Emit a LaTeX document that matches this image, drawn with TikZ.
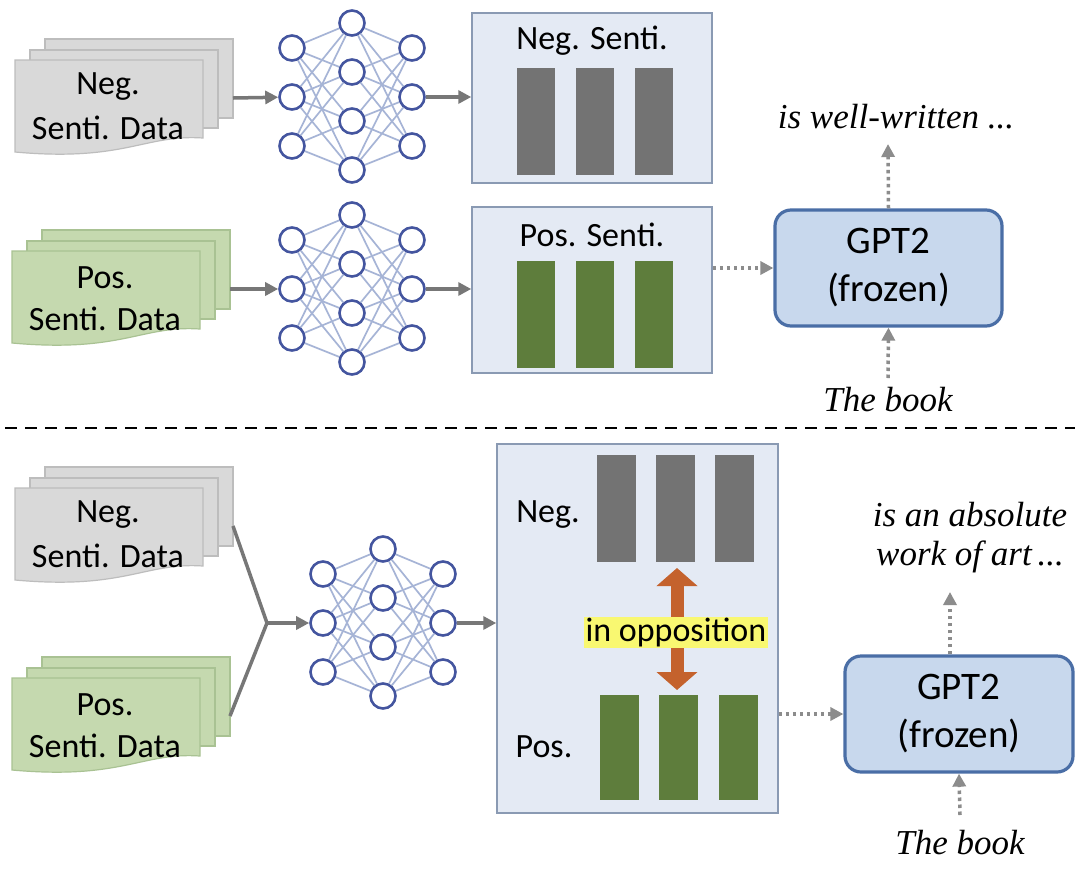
\documentclass[tikz,border=0pt]{standalone}
\usepackage{fontspec}
\setmainfont{Carlito}
\newfontfamily\tms{Liberation Serif}
\usetikzlibrary{arrows.meta,calc}
\definecolor{sheetgray}{HTML}{D9D9D9}
\definecolor{sheetgrayd}{HTML}{BDBDBD}
\definecolor{sheetgreen}{HTML}{C5D9AF}
\definecolor{sheetgreend}{HTML}{A9C293}
\definecolor{nnblue}{HTML}{44559F}
\definecolor{nnedgec}{HTML}{A6B4D6}
\definecolor{arrgray}{HTML}{777777}
\definecolor{dotgray}{HTML}{8C8C8C}
\definecolor{boxfill}{HTML}{E4EAF4}
\definecolor{boxdraw}{HTML}{8A9AB3}
\definecolor{negbarc}{HTML}{737373}
\definecolor{posbarc}{HTML}{5E7D3C}
\definecolor{gptfill}{HTML}{C8D8ED}
\definecolor{gptdraw}{HTML}{4A6EA6}
\definecolor{oppc}{HTML}{C4622D}
\definecolor{yellowc}{HTML}{F9F871}
\newcommand\fA{\fontsize{34}{41}\selectfont}
\newcommand\fG{\fontsize{39}{48}\selectfont}
\newcommand\fI{\fontsize{35}{39}\selectfont\tms\itshape}
\tikzset{
  lbl/.style={font=\fA, inner sep=0pt},
  sheetneg/.style={fill=sheetgray, draw=sheetgrayd, line width=1.2pt},
  sheetpos/.style={fill=sheetgreen, draw=sheetgreend, line width=1.2pt},
  neuron/.style={circle, draw=nnblue, fill=white, line width=2.6pt, minimum size=25pt, inner sep=0pt},
  nnedge/.style={draw=nnedgec, line width=1.7pt},
  grayarrow/.style={draw=arrgray, line width=3.5pt, -{Triangle[length=13pt,width=13pt]}},
  grayline/.style={draw=arrgray, line width=3.5pt},
  dotarrow/.style={draw=dotgray, line width=3.5pt, dash pattern=on 3.5pt off 3.5pt, -{Triangle[length=13pt,width=13pt]}},
  featbox/.style={rectangle, fill=boxfill, draw=boxdraw, line width=1.5pt, inner sep=0pt},
  negbar/.style={rectangle, fill=negbarc, inner sep=0pt, minimum width=38pt, minimum height=107pt},
  posbar/.style={rectangle, fill=posbarc, inner sep=0pt, minimum width=38pt, minimum height=107pt},
  gptbox/.style={rectangle, rounded corners=16pt, fill=gptfill, draw=gptdraw, line width=3.2pt, minimum width=227pt, minimum height=116pt, align=center, font=\fG, inner sep=0pt},
  itext/.style={font=\fI, inner sep=0pt, align=center},
  opparrow/.style={draw=oppc, line width=13pt, {Triangle[length=18pt,width=40pt]}-{Triangle[length=18pt,width=40pt]}},
  sepline/.style={draw=black, line width=2.5pt, dash pattern=on 12pt off 8pt}
}
% document stack: name, fx, fy, style, first word
\newcommand\docstack[5]{%
  \begin{scope}[shift={(#2,#3)}]
    \draw[#4] (30,-21) rectangle (218,58);
    \draw[#4] (15,-10) rectangle (203,68);
    \draw[#4] (0,0) -- (188,0) -- (188,78) .. controls (130,74) and (110,102) .. (0,92) -- cycle;
    \node[lbl] (#1a) at (93,27) {#5};
    \node[lbl] (#1b) at (93,68) {Senti. Data};
    \coordinate (#1out) at (218,38);
  \end{scope}}
% neural net: name, x0, c
\newcommand\nnet[3]{%
  \foreach \i/\dy in {1/-49,2/0,3/49} {\node[neuron] (#1l\i) at (#2,#3+\dy) {};}
  \foreach \i/\dy in {1/-74,2/-25,3/24,4/73} {\node[neuron] (#1m\i) at (#2+60,#3+\dy) {};}
  \foreach \i/\dy in {1/-49,2/0,3/49} {\node[neuron] (#1r\i) at (#2+120,#3+\dy) {};}
  \foreach \i in {1,2,3} {\foreach \j in {1,2,3,4} {
    \draw[nnedge] (#1l\i) -- (#1m\j);
    \draw[nnedge] (#1m\j) -- (#1r\i);}}
}
\begin{document}
\begin{tikzpicture}[x=1pt,y=-1pt]
\useasboundingbox (0,0) rectangle (1080,871);
\fill[white] (0,0) rectangle (1080,871);

% ---------------- top part ----------------
\docstack{tn}{15}{60}{sheetneg}{Neg.}
\docstack{tp}{12}{251}{sheetpos}{Pos.}
\nnet{na}{292}{97}
\nnet{nb}{292}{289}

\node[featbox, minimum width=240pt, minimum height=170pt] (negbox) at (592,98) {};
\node[lbl] (negtitle) at (592,41) {Neg. Senti.};
\node[negbar] (tnb1) at (536,121.5) {};
\node[negbar] (tnb2) at (595,121.5) {};
\node[negbar] (tnb3) at (654,121.5) {};

\node[featbox, minimum width=240pt, minimum height=166pt] (posbox) at (592,290) {};
\node[lbl] (postitle) at (592,235) {Pos. Senti.};
\node[posbar] (tpb1) at (536,314.5) {};
\node[posbar] (tpb2) at (595,314.5) {};
\node[posbar] (tpb3) at (654,314.5) {};

\draw[grayarrow] (tnout) -- (nal2);
\draw[grayarrow] (tpout) -- (nbl2);
\draw[grayarrow] (nar2) -- (negbox.west |- nar2);
\draw[grayarrow] (nbr2) -- (posbox.west |- nbr2);

\node[gptbox] (gpta) at (888.5,268) {GPT2\\(frozen)};
\draw[dotarrow] (posbox.east |- gpta.west) -- (gpta.west);
\node[itext] (outa) at (896,117) {is well-written ...};
\coordinate (upa) at (888,144);
\draw[dotarrow] (gpta.north) -- (upa);
\node[itext] (ina) at (888,400) {The book};
\coordinate (ina0) at (888,378);
\draw[dotarrow] (ina0) -- (gpta.south);

% separator
\coordinate (sepL) at (5,428);
\coordinate (sepR) at (1075,428);
\draw[sepline] (sepL) -- (sepR);

% ---------------- bottom part ----------------
\docstack{bn}{15}{488}{sheetneg}{Neg.}
\docstack{bp}{12}{678}{sheetpos}{Pos.}
\nnet{nc}{323}{623}
\coordinate (jn) at (267,623);
\draw[grayline] (bnout) -- (jn);
\draw[grayline] (bpout) -- (jn);
\draw[grayarrow] (jn) -- (ncl2);

\node[featbox, minimum width=281pt, minimum height=369pt] (bigbox) at (637.5,628.5) {};
\draw[grayarrow] (ncr2) -- (bigbox.west |- ncr2);
\node[negbar, minimum width=39pt] (bnb1) at (616,508.5) {};
\node[negbar, minimum width=39pt] (bnb2) at (675.5,508.5) {};
\node[negbar, minimum width=39pt] (bnb3) at (734.5,508.5) {};
\node[posbar, minimum width=39pt, minimum height=105pt] (bpb1) at (619.5,747.5) {};
\node[posbar, minimum width=39pt, minimum height=105pt] (bpb2) at (678.5,747.5) {};
\node[posbar, minimum width=39pt, minimum height=105pt] (bpb3) at (738.5,747.5) {};
\node[lbl] (bneglbl) at (548,515) {Neg.};
\node[lbl] (bposlbl) at (544,747) {Pos.};

\coordinate (oppT) at (677,568);
\coordinate (oppB) at (677,690);
\draw[opparrow] (oppT) -- (oppB);
\node[lbl, fill=yellowc, inner xsep=2pt, inner ysep=1pt] (opp) at (676,632) {in opposition};

\node[gptbox, minimum width=228pt] (gptb) at (959,714) {GPT2\\(frozen)};
\draw[dotarrow] (bigbox.east |- gptb.west) -- (gptb.west);
\node[itext] (outb) at (970,538) {is an absolute\\work of art\,...};
\coordinate (upb) at (950,592);
\draw[dotarrow] (upb |- gptb.north) -- (upb);
\node[itext] (inb) at (960,843) {The book};
\coordinate (inb0) at (960,815);
\draw[dotarrow] (inb0) -- (gptb.south);
\end{tikzpicture}
\end{document}
